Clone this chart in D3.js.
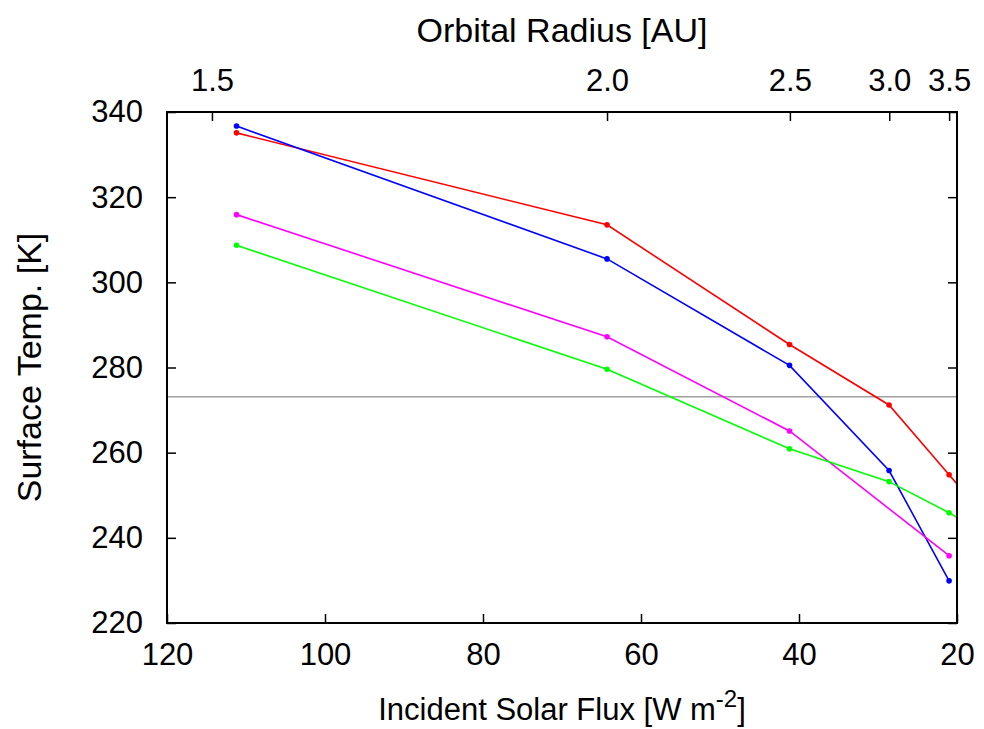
<!DOCTYPE html>
<html>
<head>
<meta charset="utf-8">
<script src="https://cdn.jsdelivr.net/npm/d3@7"></script>
<style>
  body { margin: 0; background: #fff; }
  text { font-family: "Liberation Sans", Arial, sans-serif; fill: #000; }
</style>
</head>
<body>
<div id="chart"></div>
<script>
// Width and height
const WIDTH = 984;
const HEIGHT = 729;
const MARGIN = { top: 112, right: 27, bottom: 106, left: 167 };
const INNER_W = WIDTH - MARGIN.left - MARGIN.right;
const INNER_H = HEIGHT - MARGIN.top - MARGIN.bottom;

// Data
const flux = [111.2, 64.3, 41.2, 28.6, 21.0, 16.1];
const tempRed = [335.1, 313.5, 285.4, 271.2, 254.8, 244.2];
const tempBlue = [336.7, 305.5, 280.5, 255.8, 229.9, null];
const tempMagenta = [315.9, 287.2, 265.1, null, 235.8, null];
const tempGreen = [308.7, 279.6, 260.9, 253.2, 245.9, 240.6];
const FREEZING = 273.15;

const fluxTicks = [120, 100, 80, 60, 40, 20];
const tempTicks = [220, 240, 260, 280, 300, 320, 340];
const radiusTicks = [1.5, 2.0, 2.5, 3.0, 3.5];
// flux received at 1 AU, used for the radius axis on top
const FLUX_1AU = 257.2;

const series = [
  { color: "#ff0000", values: tempRed },
  { color: "#0000ff", values: tempBlue },
  { color: "#ff00ff", values: tempMagenta },
  { color: "#00ff00", values: tempGreen },
];

// SVG
const svg = d3
  .select("#chart")
  .append("svg")
  .attr("width", WIDTH)
  .attr("height", HEIGHT);

const g = svg
  .append("g")
  .attr("transform", "translate(" + MARGIN.left + "," + MARGIN.top + ")");

// Scales
const x = d3.scaleLinear().domain([120, 20]).range([0, INNER_W]);
const y = d3.scaleLinear().domain([220, 340]).range([INNER_H, 0]);

g.append("clipPath")
  .attr("id", "plot-clip")
  .append("rect")
  .attr("width", INNER_W)
  .attr("height", INNER_H);

// Freezing point
g.append("line")
  .attr("x1", 0)
  .attr("x2", INNER_W)
  .attr("y1", y(FREEZING))
  .attr("y2", y(FREEZING))
  .attr("stroke", "#a0a0a0")
  .attr("stroke-width", 1.5);

// Lines and points
const line = d3
  .line()
  .x((d) => x(d.f))
  .y((d) => y(d.t));

const plot = g.append("g").attr("clip-path", "url(#plot-clip)");

series.forEach((s) => {
  const pts = flux
    .map((f, i) => ({ f: f, t: s.values[i] }))
    .filter((d) => d.t !== null);

  plot
    .append("path")
    .datum(pts)
    .attr("d", line)
    .attr("fill", "none")
    .attr("stroke", s.color)
    .attr("stroke-width", 1.6);

  plot
    .selectAll(null)
    .data(pts)
    .enter()
    .append("circle")
    .attr("cx", (d) => x(d.f))
    .attr("cy", (d) => y(d.t))
    .attr("r", 2.8)
    .attr("fill", s.color);
});

// Axes
const styleAxis = (sel, size) => {
  sel.select(".domain").remove();
  sel.selectAll(".tick line").attr("stroke", "#000").attr("stroke-width", 1.5);
  sel.selectAll(".tick text").style("font-size", size + "px");
};

g.append("g")
  .attr("transform", "translate(0," + INNER_H + ")")
  .call(
    d3.axisBottom(x).tickValues(fluxTicks).tickSize(-9).tickPadding(20)
  )
  .call(styleAxis, 31);

g.append("g")
  .call(d3.axisLeft(y).tickValues(tempTicks).tickSize(-9).tickPadding(24))
  .call(styleAxis, 31);

g.append("g")
  .attr("transform", "translate(" + INNER_W + ",0)")
  .call(
    d3.axisRight(y).tickValues(tempTicks).tickSize(-9).tickFormat("")
  )
  .call(styleAxis, 31);

g.append("g")
  .call(
    d3
      .axisTop(x)
      .tickValues(radiusTicks.map((r) => FLUX_1AU / (r * r)))
      .tickFormat((f) => d3.format(".1f")(Math.sqrt(FLUX_1AU / f)))
      .tickSize(-9)
      .tickPadding(21)
  )
  .call(styleAxis, 31);

// Frame
g.append("rect")
  .attr("width", INNER_W)
  .attr("height", INNER_H)
  .attr("fill", "none")
  .attr("stroke", "#000")
  .attr("stroke-width", 2);

// Titles
svg
  .append("text")
  .attr("x", MARGIN.left + INNER_W / 2)
  .attr("y", 42)
  .attr("text-anchor", "middle")
  .style("font-size", "34px")
  .text("Orbital Radius [AU]");

const xTitle = svg
  .append("text")
  .attr("x", MARGIN.left + INNER_W / 2)
  .attr("y", 720)
  .attr("text-anchor", "middle")
  .style("font-size", "31px");
xTitle.append("tspan").text("Incident Solar Flux [W m");
xTitle
  .append("tspan")
  .attr("dy", -13)
  .style("font-size", "24px")
  .text("-2");
xTitle.append("tspan").attr("dy", 13).text("]");

svg
  .append("text")
  .attr("transform", "translate(41," + (MARGIN.top + INNER_H / 2) + ") rotate(-90)")
  .attr("text-anchor", "middle")
  .style("font-size", "34px")
  .text("Surface Temp. [K]");
</script>
</body>
</html>
